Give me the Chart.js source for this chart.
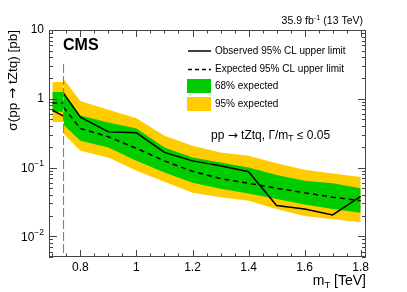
<!DOCTYPE html>
<html>
<head>
<meta charset="utf-8">
<script src="https://cdn.jsdelivr.net/npm/chart.js@4"></script>
<style>
  body { margin: 0; background: #fff; }
  #wrap { width: 407px; height: 292px; position: relative; }
</style>
</head>
<body>
<div id="wrap"><canvas id="myChart"></canvas></div>
<script>
// masses (TeV): narrow left region and main region
var massLeft = [0.7, 0.74];
var massRight = [0.74, 0.8, 0.9, 1.0, 1.1, 1.2, 1.3, 1.4, 1.5, 1.6, 1.7, 1.8];

// limits in pb
var obsLeft = [0.68, 0.56];
var expLeft = [0.87, 0.87];
var g68UpLeft = [1.25, 1.25];
var g68LoLeft = [0.65, 0.65];
var y95UpLeft = [1.75, 1.75];
var y95LoLeft = [0.46, 0.46];

var obsRight = [1.2, 0.54, 0.33, 0.32, 0.166, 0.125, 0.106, 0.087, 0.028, 0.025, 0.0205, 0.038];
var expRight = [0.75, 0.37, 0.28, 0.19, 0.125, 0.088, 0.069, 0.059, 0.05, 0.043, 0.037, 0.033];
var g68UpRight = [1.24, 0.57, 0.45, 0.37, 0.196, 0.14, 0.118, 0.1, 0.078, 0.064, 0.059, 0.05];
var g68LoRight = [0.42, 0.245, 0.196, 0.125, 0.085, 0.06, 0.049, 0.042, 0.035, 0.029, 0.025, 0.022];
var y95UpRight = [1.94, 0.93, 0.69, 0.52, 0.29, 0.207, 0.166, 0.148, 0.115, 0.093, 0.082, 0.073];
var y95LoRight = [0.31, 0.175, 0.14, 0.09, 0.062, 0.043, 0.037, 0.033, 0.025, 0.0198, 0.0177, 0.0162];

// boundary line between the two regions
var boundaryX = [0.74, 0.74];
var boundaryY = [3.2, 0.005];

var xTicks = [0.8, 1.0, 1.2, 1.4, 1.6, 1.8];
var yTicks = [0.01, 0.1, 1, 10];

var GREEN = '#00cc00';
var YELLOW = '#ffcc00';
var FONT = '"Liberation Sans", Arial, Helvetica, sans-serif';
var ARROW = '"DejaVu Sans", sans-serif';

function pts(xs, ys) {
    return xs.map(function (x, i) { return { x: x, y: ys[i] }; });
}

function line(data, opts) {
    var d = {
        data: data,
        borderColor: 'black',
        borderWidth: 1.5,
        pointRadius: 0,
        fill: false
    };
    for (var k in opts) d[k] = opts[k];
    return d;
}

// draws pieces of text one after another, each with its own font and raise
function runs(ctx, parts, x, y) {
    parts.forEach(function (p) {
        ctx.font = p[1];
        ctx.fillText(p[0], x, y - (p[2] || 0));
        x += ctx.measureText(p[0]).width;
    });
    return x;
}

function runsWidth(ctx, parts) {
    var w = 0;
    parts.forEach(function (p) { ctx.font = p[1]; w += ctx.measureText(p[0]).width; });
    return w;
}

// frame, inner ticks, tick labels on y, titles and legend
var decorations = {
    id: 'decorations',
    afterDraw: function (chart) {
        var ctx = chart.ctx;
        var a = chart.chartArea;
        var xs = chart.scales.x, ys = chart.scales.y;
        ctx.save();
        ctx.strokeStyle = '#444';
        ctx.lineWidth = 1;
        ctx.strokeRect(a.left + 0.5, a.top + 0.5, a.right - a.left - 1, a.bottom - a.top - 1);

        ctx.beginPath();
        // x ticks
        for (var i = 0; i <= 22; i++) {
            var v = 0.7 + i * 0.05;
            var px = Math.round(xs.getPixelForValue(v)) + 0.5;
            if (px < a.left || px > a.right) continue;
            var major = Math.abs((v * 10) % 2) < 0.01 || Math.abs((v * 10) % 2 - 2) < 0.01;
            var len = major ? 7 : 3.5;
            ctx.moveTo(px, a.bottom); ctx.lineTo(px, a.bottom - len);
            ctx.moveTo(px, a.top); ctx.lineTo(px, a.top + len);
        }
        // y ticks
        for (var e = -3; e <= 1; e++) {
            for (var m = 1; m <= 9; m++) {
                var yv = m * Math.pow(10, e);
                if (yv < 0.005 || yv > 10.0001) continue;
                var py = Math.round(ys.getPixelForValue(yv)) + 0.5;
                var ylen = m === 1 ? 8 : 4;
                ctx.moveTo(a.left, py); ctx.lineTo(a.left + ylen, py);
                ctx.moveTo(a.right, py); ctx.lineTo(a.right - ylen, py);
            }
        }
        ctx.stroke();

        // y tick labels
        ctx.fillStyle = 'black';
        ctx.textBaseline = 'middle';
        yTicks.forEach(function (t) {
            var py = ys.getPixelForValue(t);
            var exp = Math.round(Math.log10(t));
            var right = a.left - 5;
            if (exp === 0 || exp === 1) {
                ctx.font = '12px ' + FONT;
                ctx.textAlign = 'right';
                ctx.fillText(exp === 0 ? '1' : '10', right, py);
            } else {
                ctx.font = '8.5px ' + FONT;
                ctx.textAlign = 'right';
                var sup = '\u2212' + (-exp);
                ctx.fillText(sup, right, py - 4);
                var w = ctx.measureText(sup).width;
                ctx.font = '12px ' + FONT;
                ctx.fillText('10', right - w, py + 1);
            }
        });
        ctx.textAlign = 'left';

        // y title
        ctx.save();
        ctx.translate(13, a.top);
        ctx.rotate(-Math.PI / 2);
        ctx.textBaseline = 'middle';
        var yt = [['\u03c3(pp ', '13.5px ' + FONT], ['\u2192', '13.5px ' + ARROW], [' tZtq) [pb]', '13.5px ' + FONT]];
        runs(ctx, yt, -runsWidth(ctx, yt), 0);
        ctx.restore();

        // x title: m_T [TeV]
        ctx.textBaseline = 'alphabetic';
        var xt = [['m', '14px ' + FONT], ['T', '9.5px ' + FONT, -3], [' [TeV]', '14px ' + FONT]];
        runs(ctx, xt, a.right - runsWidth(ctx, xt), 285);

        // CMS
        ctx.font = 'bold 16px ' + FONT;
        ctx.textBaseline = 'middle';
        ctx.fillText('CMS', 63, 46);

        // lumi
        var lu = [['35.9 fb', '10.5px ' + FONT], ['-1', '7.5px ' + FONT, 3], [' (13 TeV)', '10.5px ' + FONT]];
        runs(ctx, lu, a.right - 3 - runsWidth(ctx, lu), 21);

        // model label
        var ml = [['pp ', '12px ' + FONT], ['\u2192', '12px ' + ARROW], [' tZtq, \u0393/m', '12px ' + FONT],
                  ['T', '8.5px ' + FONT, -3], [' \u2264 0.05', '12px ' + FONT]];
        runs(ctx, ml, 211, 136);

        // legend
        ctx.font = '10px ' + FONT;
        ctx.strokeStyle = 'black';
        ctx.lineWidth = 1.5;
        ctx.beginPath();
        ctx.moveTo(188, 51); ctx.lineTo(211, 51);
        ctx.stroke();
        ctx.setLineDash([4, 3]);
        ctx.beginPath();
        ctx.moveTo(188, 69.5); ctx.lineTo(211, 69.5);
        ctx.stroke();
        ctx.setLineDash([]);
        ctx.fillStyle = GREEN;
        ctx.fillRect(187, 79, 24, 14);
        ctx.fillStyle = YELLOW;
        ctx.fillRect(187, 97, 24, 14);
        ctx.fillStyle = 'black';
        ctx.fillText('Observed 95% CL upper limit', 215, 51);
        ctx.fillText('Expected 95% CL upper limit', 215, 69.5);
        ctx.fillText('68% expected', 215, 86);
        ctx.fillText('95% expected', 215, 104);
        ctx.restore();
    }
};

var ctx = document.getElementById('myChart');
var myChart = new Chart(ctx, {
    type: 'line',
    data: {
        datasets: [
            line(pts(boundaryX, boundaryY), { borderColor: '#777', borderWidth: 1, borderDash: [9, 3], order: 0 }),
            line(pts(massRight, obsRight), { order: 1 }),
            line(pts(massLeft, obsLeft), { order: 1 }),
            line(pts(massRight, expRight), { borderDash: [5, 4], order: 2 }),
            line(pts(massLeft, expLeft), { borderDash: [5, 4], order: 2 }),
            // 68% band (index 5..8)
            line(pts(massRight, g68UpRight), { borderWidth: 0, fill: 6, backgroundColor: GREEN, order: 3 }),
            line(pts(massRight, g68LoRight), { borderWidth: 0, order: 3 }),
            line(pts(massLeft, g68UpLeft), { borderWidth: 0, fill: 8, backgroundColor: GREEN, order: 3 }),
            line(pts(massLeft, g68LoLeft), { borderWidth: 0, order: 3 }),
            // 95% band (index 9..12)
            line(pts(massRight, y95UpRight), { borderWidth: 0, fill: 10, backgroundColor: YELLOW, order: 4 }),
            line(pts(massRight, y95LoRight), { borderWidth: 0, order: 4 }),
            line(pts(massLeft, y95UpLeft), { borderWidth: 0, fill: 12, backgroundColor: YELLOW, order: 4 }),
            line(pts(massLeft, y95LoLeft), { borderWidth: 0, order: 4 })
        ]
    },
    options: {
        responsive: true,
        maintainAspectRatio: false,
        animation: false,
        layout: { padding: { left: 0, right: 41, top: 30, bottom: 0 } },
        plugins: {
            legend: { display: false },
            tooltip: { enabled: false }
        },
        scales: {
            x: {
                type: 'linear',
                min: 0.688,
                max: 1.819,
                grid: { display: false, drawTicks: false, tickLength: 0 },
                border: { display: false },
                afterBuildTicks: function (scale) {
                    scale.ticks = xTicks.map(function (v) { return { value: v }; });
                },
                afterFit: function (scale) { scale.height = 35; },
                ticks: {
                    autoSkip: false,
                    maxRotation: 0,
                    padding: 3,
                    color: 'black',
                    font: { size: 12, family: FONT },
                    callback: function (v) { return String(+v.toFixed(1)); }
                }
            },
            y: {
                type: 'logarithmic',
                min: 0.005,
                max: 10,
                grid: { display: false, drawTicks: false, tickLength: 0 },
                border: { display: false },
                ticks: { display: false },
                afterFit: function (scale) { scale.width = 49; }
            }
        }
    },
    plugins: [decorations]
});
</script>
</body>
</html>
